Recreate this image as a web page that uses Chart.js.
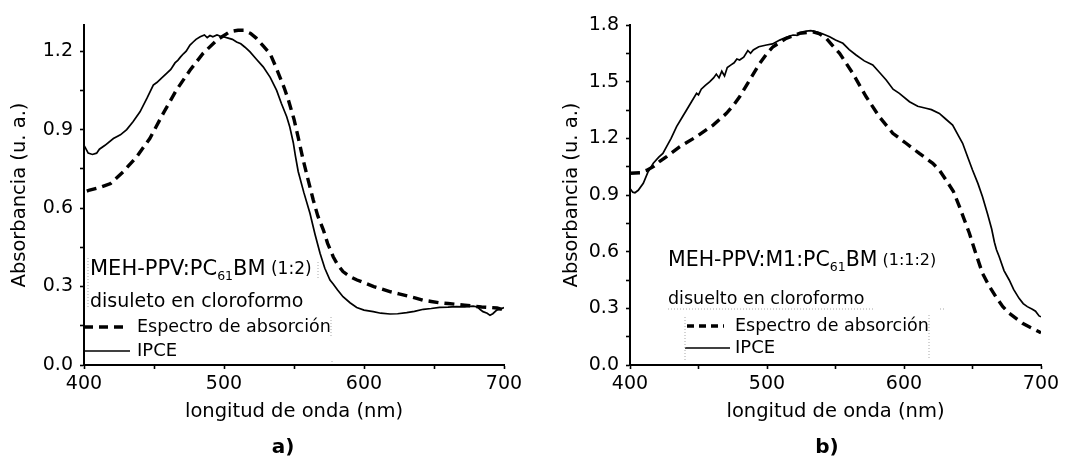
<!DOCTYPE html>
<html><head><meta charset="utf-8">
<script src="https://cdn.jsdelivr.net/npm/chart.js@4.4.0/dist/chart.umd.min.js"></script>
<style>
html,body{margin:0;padding:0;background:#fff;width:1073px;height:459px;overflow:hidden}
#ca{position:absolute;left:0;top:0}
#cb{position:absolute;left:535px;top:0}
</style></head><body>
<canvas id="ca" width="535" height="459"></canvas>
<canvas id="cb" width="538" height="459"></canvas>
<script>
// ---------- data ----------
const xTitle = 'longitud de onda (nm)';
const yTitle = 'Absorbancia (u. a.)';
const seriesNames = ['Espectro de absorción', 'IPCE'];

// panel a) MEH-PPV:PC61BM (1:2)
const aAbsX = [402,404,412,419,428,437.6,447,456.6,466,475.7,485,494.8,504,510,514,519,523,528,533,537,540,543,546,550,553,556.6,560,563.8,567,571,574,578,581,585,590,595,600,607,613,619,625,631,637,642,648,654,660,666,672,678,684,690,695,700];
const aAbsY = [0.665,0.669,0.68,0.694,0.739,0.796,0.866,0.962,1.051,1.127,1.191,1.242,1.274,1.28,1.28,1.268,1.25,1.22,1.19,1.14,1.10,1.06,1.013,0.94,0.87,0.783,0.71,0.63,0.57,0.516,0.465,0.414,0.385,0.357,0.338,0.325,0.315,0.30,0.29,0.28,0.272,0.264,0.256,0.248,0.243,0.238,0.235,0.232,0.229,0.225,0.222,0.22,0.218,0.21];
const aIpceX = [400,401,403,406,409,411,415,421,426,430.5,435,440,445,449.5,452,455,459,462,465,467,469,471,473,475.7,478,480,483,486,488,490,492,495,497,499.5,503,506,509,512,515,518.6,523,528,533,537.6,541,544.8,547,549.5,551,553,557,561.4,565,568.6,572,575.7,578,581,585,590,594.8,600,606.6,612,618.6,624,630.5,636,642.4,648,654,660,666,672,678,681,683,685,688,690,692,694.8,697,700];
const aIpceY = [0.84,0.83,0.81,0.805,0.81,0.825,0.84,0.866,0.88,0.90,0.93,0.968,1.02,1.07,1.08,1.095,1.115,1.13,1.155,1.165,1.178,1.19,1.2,1.223,1.235,1.245,1.255,1.262,1.252,1.26,1.255,1.262,1.258,1.255,1.25,1.245,1.235,1.228,1.215,1.197,1.17,1.14,1.10,1.05,1.0,0.949,0.91,0.85,0.80,0.74,0.66,0.58,0.50,0.427,0.37,0.325,0.31,0.288,0.261,0.238,0.22,0.21,0.204,0.198,0.195,0.196,0.20,0.205,0.213,0.216,0.22,0.221,0.223,0.222,0.225,0.222,0.212,0.204,0.198,0.19,0.196,0.21,0.212,0.22];

// panel b) MEH-PPV:M1:PC61BM (1:1:2)
const bAbsX = [400,407.3,412,417,422,426.7,436.4,448.6,460.7,470.4,476,480,487.4,494.7,500,504.4,514,523.8,533.5,538,543.3,548,553,562.6,572.4,582,591.8,601.5,611.2,621,626,630.7,636,640.4,644,647.6,652,657.3,662,667,672,676.8,682,686.5,692,698.6,700];
const bAbsY = [1.015,1.018,1.03,1.05,1.08,1.103,1.156,1.209,1.27,1.332,1.38,1.42,1.509,1.597,1.65,1.685,1.729,1.756,1.764,1.755,1.729,1.69,1.65,1.544,1.42,1.314,1.227,1.174,1.12,1.068,1.03,0.979,0.92,0.84,0.77,0.70,0.60,0.485,0.42,0.362,0.31,0.274,0.245,0.221,0.20,0.176,0.17];
const bIpceX = [400,402,403.6,406,409.7,413,417,421,424,426.7,430,434,438,441.3,445,448.6,450,452,455,458.3,461,463,465,467,469,471,474,476,478,480,483,486,488,490,494,499.6,504,509.3,514,519,522,524,528.7,532,536,540,545.7,550,555.4,560,565,571,577.2,582,587,592,596.6,604,610,616,620,625.8,630,635.5,640,642.8,646,650,654,657.3,661,664,666,667.5,669.5,673,676.8,680,684,687,690,693.7,696,698.6,700];
const bIpceY = [0.935,0.915,0.912,0.925,0.962,1.02,1.068,1.10,1.12,1.156,1.2,1.262,1.31,1.35,1.395,1.438,1.43,1.46,1.48,1.50,1.52,1.54,1.52,1.555,1.53,1.575,1.59,1.60,1.62,1.615,1.63,1.665,1.65,1.668,1.685,1.694,1.70,1.72,1.735,1.747,1.745,1.76,1.768,1.77,1.764,1.755,1.738,1.72,1.703,1.67,1.641,1.61,1.588,1.55,1.509,1.46,1.438,1.394,1.37,1.359,1.352,1.332,1.305,1.27,1.21,1.174,1.11,1.032,0.96,0.891,0.80,0.72,0.65,0.61,0.573,0.50,0.45,0.40,0.353,0.325,0.309,0.295,0.285,0.26,0.255];

const xMin = 400, xMax = 700, xStep = 50, xLabelEvery = 100;
const aYMax = 1.3, bYMax = 1.8, yStep = 0.15, yLabelEvery = 0.3;

// ---------- drawing ----------
const FONT = 'DejaVu Sans';
const pts = (xs, ys) => xs.map((x, i) => ({x, y: ys[i]}));

const notesPlugin = {
  id: 'notes',
  afterDraw(chart, args, opts) {
    const ctx = chart.ctx;
    ctx.save();
    ctx.fillStyle = '#000';
    ctx.textBaseline = 'middle';
    ctx.textAlign = 'left';
    for (const it of opts.items || []) {
      if (it.type === 'rich') {
        let cx = it.x;
        for (const p of it.parts) {
          ctx.font = (p.bold ? 'bold ' : '') + p.size + 'px "' + FONT + '"';
          ctx.fillText(p.t, cx, it.y + (p.dy || 0));
          cx += ctx.measureText(p.t).width;
        }
      } else if (it.type === 'line') {
        ctx.beginPath();
        ctx.strokeStyle = it.color || '#000';
        ctx.lineWidth = it.width || 1;
        ctx.setLineDash(it.dash || []);
        ctx.moveTo(it.x1, it.y1);
        ctx.lineTo(it.x2, it.y2);
        ctx.stroke();
        ctx.setLineDash([]);
      } else if (it.type === 'center') {
        ctx.font = (it.bold ? 'bold ' : '') + it.size + 'px "' + FONT + '"';
        ctx.textAlign = 'center';
        ctx.fillText(it.t, it.x, it.y);
        ctx.textAlign = 'left';
      }
    }
    ctx.restore();
  }
};

function makeChart(id, absX, absY, ipceX, ipceY, yMax, axisW, yTitlePad, padRight, items) {
  return new Chart(document.getElementById(id), {
    type: 'line',
    data: {
      datasets: [
        {label: seriesNames[0], data: pts(absX, absY), borderColor: '#000', borderWidth: 3.4,
         borderDash: [10, 6], pointRadius: 0, fill: false, tension: 0},
        {label: seriesNames[1], data: pts(ipceX, ipceY), borderColor: '#000', borderWidth: 1.7,
         pointRadius: 0, fill: false, tension: 0}
      ]
    },
    options: {
      responsive: false, animation: false, devicePixelRatio: 1,
      layout: {padding: {left: 0, right: padRight, top: 25, bottom: 24}},
      plugins: {legend: {display: false}, tooltip: {enabled: false}, title: {display: false}, notes: {items}},
      scales: {
        x: {
          type: 'linear', min: xMin, max: xMax,
          border: {display: true, color: '#000', width: 2},
          grid: {drawOnChartArea: false, drawTicks: true, tickLength: 4, tickColor: '#000', tickWidth: 1.6},
          ticks: {stepSize: xStep, autoSkip: false, maxRotation: 0, color: '#000', padding: 4,
                  font: {family: FONT, size: 19},
                  callback: v => (v % xLabelEvery === 0 ? String(v) : '')},
          title: {display: true, text: xTitle, color: '#000', font: {family: FONT, size: 19.5},
                  padding: {top: 0, bottom: 11}},
          afterFit: s => { s.height = 70; }
        },
        y: {
          type: 'linear', min: 0, max: yMax,
          border: {display: true, color: '#000', width: 2},
          grid: {drawOnChartArea: false, drawTicks: true, tickLength: 4, tickColor: '#000', tickWidth: 1.6},
          ticks: {stepSize: yStep, includeBounds: false, color: '#000', padding: 7, autoSkip: false,
                  font: {family: FONT, size: 19},
                  callback: v => {
                    const k = v / yLabelEvery;
                    return Math.abs(k - Math.round(k)) < 1e-6 ? v.toFixed(1) : '';
                  }},
          title: {display: true, text: yTitle, color: '#000', font: {family: FONT, size: 19.5},
                  padding: {top: yTitlePad, bottom: 0}},
          afterFit: s => { s.width = axisW; }
        }
      }
    },
    plugins: [notesPlugin]
  });
}

const DOT = {color: '#a8a8a8', width: 1, dash: [1, 2]};
const itemsA = [
  {type: 'rich', x: 90, y: 270, parts: [
    {t: 'MEH-PPV:PC', size: 21}, {t: '61', size: 12.5, dy: 7}, {t: 'BM', size: 21}, {t: ' (1:2)', size: 17}]},
  {type: 'rich', x: 90, y: 302, parts: [{t: 'disuleto en cloroformo', size: 19}]},
  {type: 'line', x1: 84, y1: 327, x2: 124, y2: 327, width: 3.4, dash: [9, 6]},
  {type: 'rich', x: 137, y: 327, parts: [{t: seriesNames[0], size: 17.5}]},
  {type: 'line', x1: 84, y1: 351, x2: 130, y2: 351, width: 1.7},
  {type: 'rich', x: 137, y: 351, parts: [{t: seriesNames[1], size: 18}]},
  Object.assign({type: 'line', x1: 88, y1: 258, x2: 88, y2: 308}, DOT),
  Object.assign({type: 'line', x1: 318, y1: 262, x2: 318, y2: 278}, DOT),
  Object.assign({type: 'line', x1: 331, y1: 317, x2: 331, y2: 336}, DOT),
  Object.assign({type: 'line', x1: 332, y1: 361, x2: 332, y2: 364}, DOT),
  {type: 'center', t: 'a)', x: 283, y: 448, size: 20, bold: true}
];
const OB = 535;
const itemsB = [
  {type: 'rich', x: 668 - OB, y: 261, parts: [
    {t: 'MEH-PPV:M1:PC', size: 20.5}, {t: '61', size: 12.5, dy: 7}, {t: 'BM', size: 20.5}, {t: ' (1:1:2)', size: 16}]},
  {type: 'rich', x: 668 - OB, y: 299, parts: [{t: 'disuelto en cloroformo', size: 17.5}]},
  Object.assign({type: 'line', x1: 668 - OB, y1: 309, x2: 873 - OB, y2: 309}, DOT),
  Object.assign({type: 'line', x1: 940 - OB, y1: 309, x2: 945 - OB, y2: 309}, DOT),
  {type: 'line', x1: 687 - OB, y1: 326, x2: 724 - OB, y2: 326, width: 3.4, dash: [7, 5]},
  {type: 'rich', x: 735 - OB, y: 326, parts: [{t: seriesNames[0], size: 17.5}]},
  {type: 'line', x1: 685 - OB, y1: 348, x2: 730 - OB, y2: 348, width: 1.7},
  {type: 'rich', x: 735 - OB, y: 348, parts: [{t: seriesNames[1], size: 18}]},
  Object.assign({type: 'line', x1: 685 - OB, y1: 317, x2: 685 - OB, y2: 360}, DOT),
  Object.assign({type: 'line', x1: 929 - OB, y1: 315, x2: 929 - OB, y2: 360}, DOT),
  {type: 'center', t: 'b)', x: 827 - OB, y: 448, size: 20, bold: true}
];

makeChart('ca', aAbsX, aAbsY, aIpceX, aIpceY, aYMax, 84, 8, 31, itemsA);
makeChart('cb', bAbsX, bAbsY, bIpceX, bIpceY, bYMax, 95, 25, 32, itemsB);
</script>
</body></html>
